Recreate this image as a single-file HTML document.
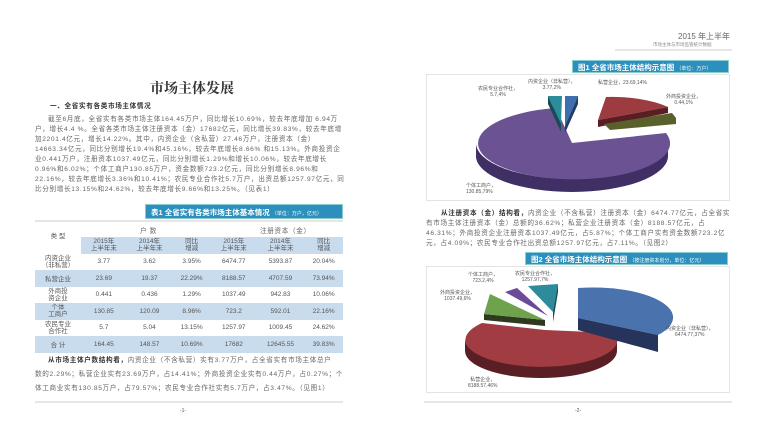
<!DOCTYPE html>
<html><head><meta charset="utf-8"><style>
*{margin:0;padding:0;box-sizing:border-box}
body{width:767px;height:437px;background:#fff;position:relative;overflow:hidden;font-family:"Liberation Sans","Noto Sans CJK SC",sans-serif;color:#555}
.a{position:absolute;white-space:nowrap}
.p{font-size:6.6px;color:#666;letter-spacing:.65px}
.bar{position:absolute;background:#2d8fbd;color:#fff;font-size:7.5px;font-weight:bold;padding:2px 5px;border:1px solid #8cc}
.bar span{font-size:5px;font-weight:normal}
table{position:absolute;border-collapse:collapse;font-size:6.5px;color:#555}
td{text-align:center;height:16.5px}
.b td{background:#c9dcee}
.hl{position:absolute;height:2px;background:#e6e6e6}
</style></head><body>
<div class="a" style="left:150px;top:78px;font-size:14px;font-weight:bold;color:#333;font-family:'Noto Serif CJK SC',serif">市场主体发展</div>
<div class="a p" style="left:50px;top:100px;font-weight:bold;color:#333">一、全省实有各类市场主体情况</div>
<div class="a p" style="left:48px;top:113px">截至6月底，全省实有各类市场主体164.45万户，同比增长10.69%，较去年底增加 6.94万</div>
<div class="a p" style="left:35px;top:123px">户，增长4.4 %。全省各类市场主体注册资本（金）17682亿元，同比增长39.83%，较去年底增</div>
<div class="a p" style="left:35px;top:133px">加2201.4亿元，增长14.22%。其中，内资企业（含私营）27.46万户，注册资本（金）</div>
<div class="a p" style="left:35px;top:143px">14663.34亿元，同比分别增长19.4%和45.16%，较去年底增长8.66% 和15.13%。外商投资企</div>
<div class="a p" style="left:35px;top:153px">业0.441万户，注册资本1037.49亿元，同比分别增长1.29%和增长10.06%，较去年底增长</div>
<div class="a p" style="left:35px;top:163px">0.96%和6.02%；个体工商户130.85万户，资金数额723.2亿元，同比分别增长8.96%和</div>
<div class="a p" style="left:35px;top:173px">22.16%，较去年底增长3.36%和10.41%；农民专业合作社5.7万户，出资总额1257.97亿元，同</div>
<div class="a p" style="left:35px;top:183px">比分别增长13.15%和24.62%，较去年底增长9.66%和13.25%。（见表1）</div>
<div class="bar" style="left:145px;top:204px;width:198px;height:15px">表1 全省实有各类市场主体基本情况 <span>（单位：万户，亿元）</span></div>
<div class="hl" style="left:35px;top:220px;width:308px"></div>
<div class="a p" style="left:140px;top:225px">户 数</div>
<div class="a p" style="left:260px;top:225px">注册资本（金）</div>
<table style="left:35px;top:237px;width:308px">
<tr class="b" style="line-height:7px"><td style="background:transparent;width:46px;vertical-align:top;padding-top:0"><div style="margin-top:-4px">类 型</div></td><td>2015年<br>上半年末</td><td>2014年<br>上半年末</td><td>同比<br>增减</td><td>2015年<br>上半年末</td><td>2014年<br>上半年末</td><td>同比<br>增减</td></tr>
<tr><td style="line-height:7px">内资企业<br>（非私营）</td><td>3.77</td><td>3.62</td><td>3.95%</td><td>6474.77</td><td>5393.87</td><td>20.04%</td></tr>
<tr class="b"><td>私营企业</td><td>23.69</td><td>19.37</td><td>22.29%</td><td>8188.57</td><td>4707.59</td><td>73.94%</td></tr>
<tr><td style="line-height:7px">外商投<br>资企业</td><td>0.441</td><td>0.436</td><td>1.29%</td><td>1037.49</td><td>942.83</td><td>10.06%</td></tr>
<tr class="b"><td style="line-height:7px">个体<br>工商户</td><td>130.85</td><td>120.09</td><td>8.96%</td><td>723.2</td><td>592.01</td><td>22.16%</td></tr>
<tr><td style="line-height:7px">农民专业<br>合作社</td><td>5.7</td><td>5.04</td><td>13.15%</td><td>1257.97</td><td>1009.45</td><td>24.62%</td></tr>
<tr class="b"><td>合 计</td><td>164.45</td><td>148.57</td><td>10.69%</td><td>17682</td><td>12645.55</td><td>39.83%</td></tr>
</table>
<div class="a p" style="left:48px;top:354px"><b style="color:#333">从市场主体户数结构看，</b>内资企业（不含私营）实有3.77万户，占全省实有市场主体总户</div>
<div class="a p" style="left:35px;top:368px">数的2.29%；私营企业实有23.69万户，占14.41%；外商投资企业实有0.44万户，占0.27%；个</div>
<div class="a p" style="left:35px;top:382px">体工商业实有130.85万户，占79.57%；农民专业合作社实有5.7万户，占3.47%。（见图1）</div>
<div class="hl" style="left:35px;top:401px;width:308px"></div>
<div class="a" style="left:180px;top:408px;font-size:5px">-1-</div>

<div class="a" style="left:678px;top:31px;font-size:8px;color:#666">2015 年上半年</div>
<div class="a" style="left:653px;top:42px;font-size:4.5px;color:#888">市场主体与市场监管统计数据</div>
<div class="hl" style="left:615px;top:49px;width:117px"></div>
<div class="bar" style="left:572px;top:60px;width:157px;height:13px;padding-top:1px">图1 全省市场主体结构示意图 <span>（单位：万户）</span></div>
<div style="position:absolute;left:426px;top:74px;width:304px;height:127px;border:1px solid #e4e4e4"></div>
<div style="position:absolute;left:426px;top:266px;width:304px;height:127px;border:1px solid #e4e4e4"></div>
<svg style="position:absolute;left:0;top:0" width="767" height="437">
<g>
<path d="M476,143 A96,36 0 0,0 668,143 L668,156 A96,36 0 0,1 476,156 Z" fill="#3f2f64"/>
<path d="M572,143 L556,108 A96,36 0 1,0 666,133 Z" fill="#6a5293"/>
<path d="M598,120 L606,97 A70,24 0 0,1 668,107 Z" fill="#9c3b40"/>
<path d="M598,120 L668,107 L668,113 L598,127 Z" fill="#5a1e22"/>
<path d="M604,124 L672,113 L676,118 L676,124 L610,130 Z" fill="#59602c"/>
<path d="M565,126 L565,96 L578,96 Z" fill="#3e6fb0"/>
<path d="M565,126 L578,96 L578,104 L565,133 Z" fill="#223d66"/>
<path d="M561,124 L548,96 L562,96 Z" fill="#2b8c9c"/>
<path d="M561,124 L548,96 L548,104 L561,132 Z" fill="#174c55"/>
</g>
<g>
<path d="M465,339 A76,27 0 0,0 617,339 L617,351 A76,27 0 0,1 465,351 Z" fill="#5a1f24"/>
<path d="M545,330 L482,323 A76,27 0 1,0 615,333 Z" fill="#a03c42"/>
<path d="M545,326 L484,320 L484,314 L545,320 Z" fill="#2e3a1e"/>
<path d="M545,320 L484,314 L490,294 Z" fill="#6ea24d"/>
<path d="M548,316 L505,292 L517,288 Z" fill="#6b4a9a"/>
<path d="M553,312 L528,286 L558,284 Z" fill="#2d8b9b"/>
<path d="M553,312 L558,284 L558,292 L553,322 Z" fill="#174a54"/>
<path d="M578,288 L578,318 L658,335 A80,30 0 0,0 578,288 Z" fill="#4a72ad"/>
<path d="M578,318 L658,335 L658,352 L578,330 Z" fill="#26335a"/>
</g>
</svg>
<div class="a" style="left:528px;top:79px;font-size:5px;text-align:center;line-height:6px">内资企业（非私营），<br>3.77,2%</div>
<div class="a" style="left:598px;top:79px;font-size:5px">私营企业，23.69,14%</div>
<div class="a" style="left:478px;top:86px;font-size:5px;text-align:center;line-height:6px">农民专业合作社，<br>5.7,4%</div>
<div class="a" style="left:666px;top:94px;font-size:5px;text-align:center;line-height:6px">外商投资企业，<br>0.44,1%</div>
<div class="a" style="left:466px;top:183px;font-size:5px;line-height:6px">个体工商户，<br>130.85,79%</div>
<div class="a p" style="left:441px;top:207px"><b style="color:#333">从注册资本（金）结构看，</b>内资企业（不含私营）注册资本（金）6474.77亿元，占全省实</div>
<div class="a p" style="left:426px;top:217px">有市场主体注册资本（金）总额的36.62%；私营企业注册资本（金）8188.57亿元，占</div>
<div class="a p" style="left:426px;top:227px">46.31%；外商投资企业注册资本1037.49亿元，占5.87%；个体工商户实有资金数额723.2亿</div>
<div class="a p" style="left:426px;top:237px">元，占4.09%；农民专业合作社出资总额1257.97亿元，占7.11%。（见图2）</div>
<div class="bar" style="left:525px;top:252px;width:203px;height:13px;padding-top:1px">图2 全省市场主体结构示意图 <span>（按注册资本划分，单位：亿元）</span></div>
<div class="a" style="left:468px;top:272px;font-size:5px;text-align:center;line-height:6px">个体工商户，<br>723.2,4%</div>
<div class="a" style="left:515px;top:271px;font-size:5px;text-align:center;line-height:6px">农民专业合作社，<br>1257.97,7%</div>
<div class="a" style="left:440px;top:290px;font-size:5px;text-align:center;line-height:6px">外商投资企业，<br>1037.49,6%</div>
<div class="a" style="left:666px;top:326px;font-size:5px;text-align:center;line-height:6px">内资企业（非私营），<br>6474.77,37%</div>
<div class="a" style="left:468px;top:377px;font-size:5px;text-align:center;line-height:6px">私营企业，<br>8188.57,46%</div>
<div class="hl" style="left:424px;top:401px;width:308px"></div>
<div class="a" style="left:575px;top:408px;font-size:5px">-2-</div>
</body></html>
